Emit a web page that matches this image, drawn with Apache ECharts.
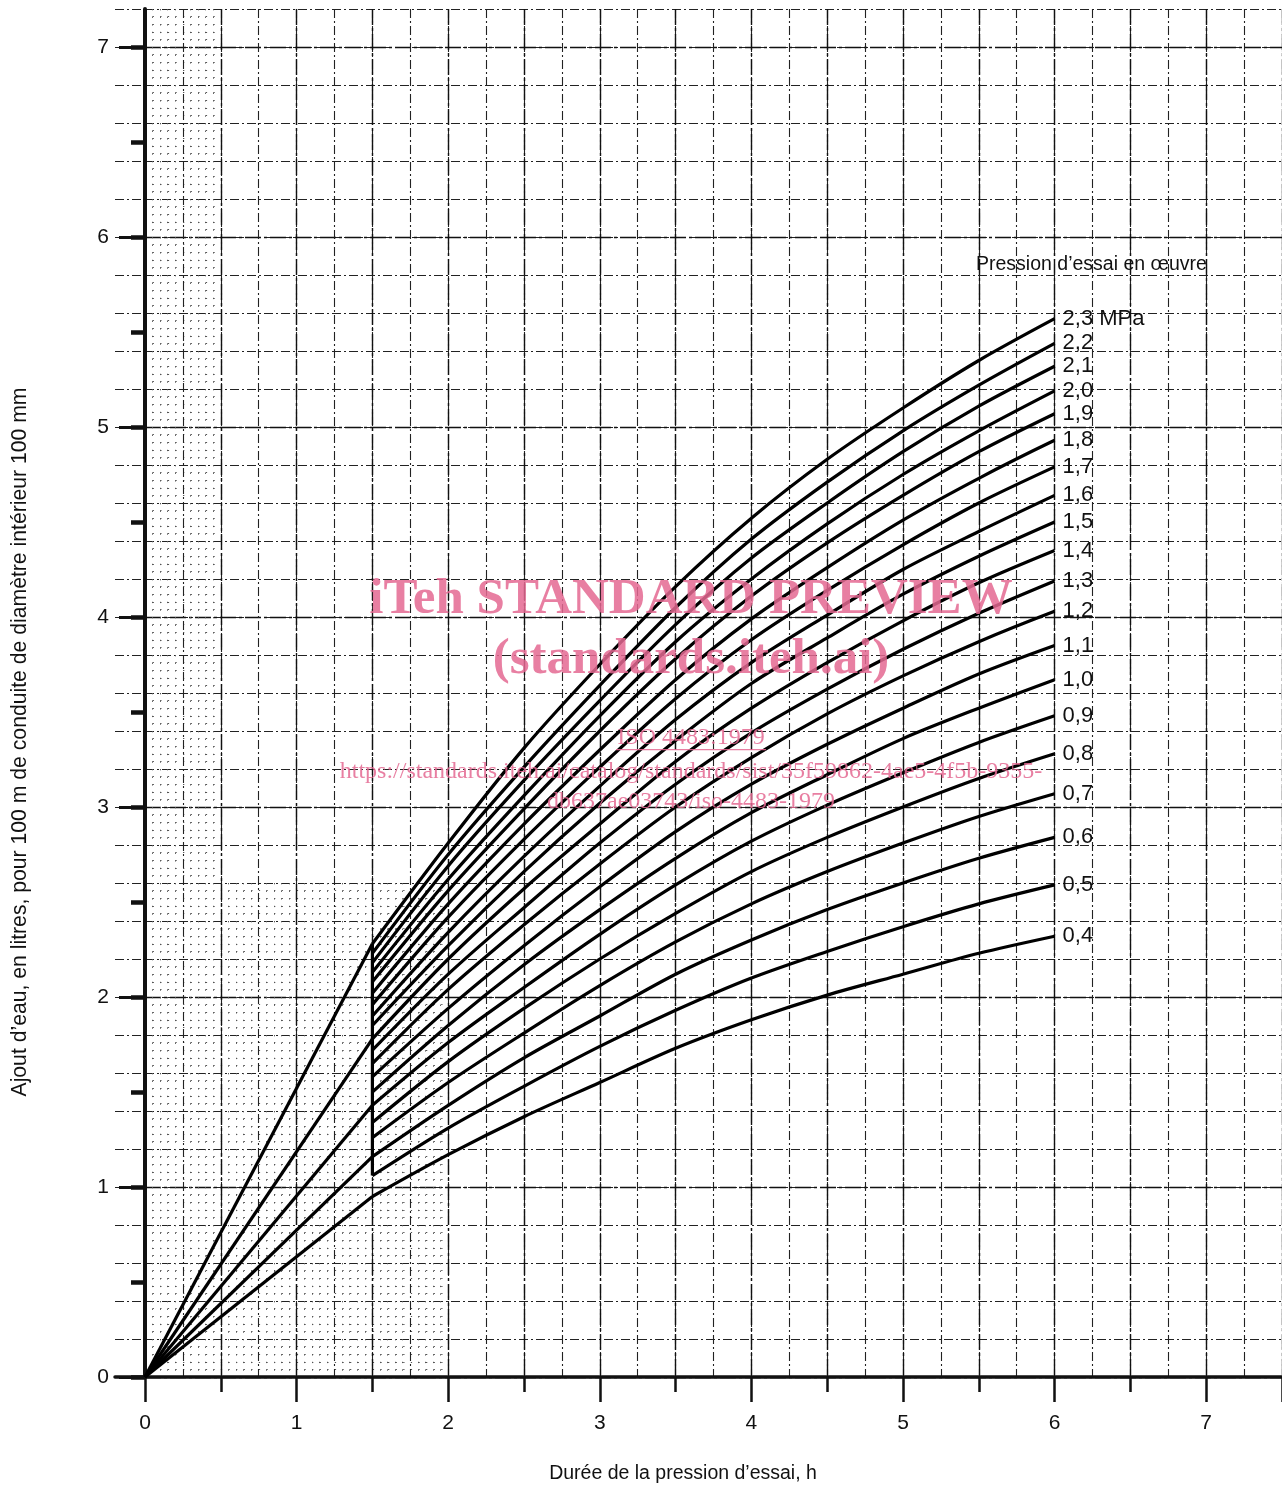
<!DOCTYPE html>
<html>
<head>
<meta charset="utf-8">
<script src="https://cdn.jsdelivr.net/npm/echarts@6/dist/echarts.min.js"></script>
<style>
html,body{margin:0;padding:0;background:#fff;overflow:hidden;}
#chart{width:1282px;height:1486px;}
</style>
</head>
<body>
<div id="chart"></div>
<script>
// ---- data ----
const hours = [1.5, 2, 2.5, 3, 3.5, 4, 4.5, 5, 5.5, 6];
const p04 = [0.95, 1.17, 1.37, 1.55, 1.73, 1.88, 2.01, 2.12, 2.23, 2.32];
const p05 = [1.06, 1.31, 1.53, 1.74, 1.93, 2.10, 2.24, 2.37, 2.49, 2.59];
const p06 = [1.16, 1.43, 1.68, 1.90, 2.12, 2.30, 2.46, 2.60, 2.73, 2.84];
const p07 = [1.26, 1.55, 1.81, 2.06, 2.29, 2.49, 2.66, 2.81, 2.95, 3.07];
const p08 = [1.34, 1.66, 1.94, 2.20, 2.44, 2.66, 2.84, 3.00, 3.15, 3.28];
const p09 = [1.43, 1.76, 2.05, 2.33, 2.59, 2.82, 3.01, 3.18, 3.34, 3.48];
const p10 = [1.50, 1.85, 2.17, 2.46, 2.73, 2.97, 3.17, 3.36, 3.52, 3.67];
const p11 = [1.58, 1.94, 2.27, 2.58, 2.87, 3.12, 3.33, 3.52, 3.70, 3.85];
const p12 = [1.65, 2.04, 2.38, 2.70, 3.00, 3.26, 3.49, 3.69, 3.87, 4.03];
const p13 = [1.72, 2.12, 2.47, 2.81, 3.12, 3.39, 3.62, 3.83, 4.02, 4.19];
const p14 = [1.78, 2.20, 2.57, 2.91, 3.24, 3.52, 3.76, 3.98, 4.18, 4.35];
const p15 = [1.85, 2.27, 2.66, 3.02, 3.35, 3.65, 3.89, 4.12, 4.32, 4.50];
const p16 = [1.90, 2.34, 2.74, 3.11, 3.46, 3.76, 4.01, 4.25, 4.45, 4.64];
const p17 = [1.96, 2.42, 2.83, 3.21, 3.57, 3.88, 4.14, 4.38, 4.60, 4.79];
const p18 = [2.02, 2.49, 2.91, 3.30, 3.67, 3.99, 4.26, 4.51, 4.73, 4.93];
const p19 = [2.08, 2.56, 2.99, 3.40, 3.78, 4.11, 4.39, 4.64, 4.87, 5.07];
const p20 = [2.13, 2.62, 3.06, 3.48, 3.87, 4.20, 4.49, 4.75, 4.98, 5.19];
const p21 = [2.18, 2.69, 3.14, 3.56, 3.96, 4.31, 4.60, 4.87, 5.11, 5.32];
const p22 = [2.23, 2.75, 3.21, 3.64, 4.05, 4.41, 4.71, 4.98, 5.22, 5.44];
const p23 = [2.28, 2.81, 3.31, 3.75, 4.16, 4.52, 4.83, 5.10, 5.35, 5.57];
const pressureLabels = ['0,4','0,5','0,6','0,7','0,8','0,9','1,0','1,1','1,2','1,3','1,4','1,5','1,6','1,7','1,8','1,9','2,0','2,1','2,2','2,3 MPa'];
const curveValues = [p04,p05,p06,p07,p08,p09,p10,p11,p12,p13,p14,p15,p16,p17,p18,p19,p20,p21,p22,p23];
const originCurves = [p04, p06, p09, p14, p23];
const xTickLabels = ['0','1','2','3','4','5','6','7'];
const yTickLabels = ['0','1','2','3','4','5','6','7'];
const yHalfTicks = [0, 0.5, 1, 1.5, 2, 2.5, 3, 3.5, 4, 4.5, 5, 5.5, 6, 6.5, 7];
const yUnitTicks = [0, 1, 2, 3, 4, 5, 6, 7];

// ---- layout ----
const W = 1282, H = 1486;
const G = { left: 145, right: 0, top: 9, bottom: 109 };
const XMAX = 7.5, YMAX = 7.2;
const plotW = W - G.left - G.right, plotH = H - G.top - G.bottom;
const pxX = plotW / XMAX, pxY = plotH / YMAX;
const FONT = '"Liberation Sans", Arial, sans-serif';
const INK = '#111';

const gridDash = { color: '#222', width: 1.1, type: [9, 3, 2, 3] };
const gridDash2 = { color: '#111', width: 1.4, type: [16, 3, 3, 3] };
const minorDots = { color: '#555', width: 1, type: [1.3, 6.3] };

function hiddenAxisBase(extra) {
  return Object.assign({
    type: 'value', axisLine: { show: false }, axisTick: { show: false },
    axisLabel: { show: false }, splitLine: { show: false }
  }, extra);
}
function intLabel(labels) {
  return v => (Math.abs(v - Math.round(v)) < 1e-6 ? (labels[Math.round(v)] ?? '') : '');
}

const grids = [
  { left: G.left, right: G.right, top: G.top, bottom: G.bottom, outerBoundsMode: 'none' },
  { left: G.left, width: 0.5 * pxX, top: G.top, bottom: G.bottom, outerBoundsMode: 'none' },
  { left: G.left + 0.5 * pxX, width: 1.5 * pxX, top: G.top + (YMAX - 2.6) * pxY, bottom: G.bottom, outerBoundsMode: 'none' },
  { left: G.left - 30, width: 30, top: G.top, bottom: G.bottom, outerBoundsMode: 'none' }
];

const xAxes = [
  { type: 'value', gridIndex: 0, position: 'bottom', min: 0, max: XMAX, interval: 0.25,
    axisLine: { show: true, onZero: false, lineStyle: { color: INK, width: 3.5 } },
    axisTick: { show: false }, axisLabel: { show: false },
    splitLine: { show: true, lineStyle: gridDash } },
  hiddenAxisBase({ gridIndex: 0, position: 'bottom', min: 0, max: XMAX, interval: 0.5,
    axisTick: { show: true, length: 15, lineStyle: { color: INK, width: 2.5 } },
    splitLine: { show: true, lineStyle: gridDash2 } }),
  hiddenAxisBase({ gridIndex: 0, position: 'bottom', min: 0, max: XMAX, interval: 1,
    axisTick: { show: true, length: 25, lineStyle: { color: INK, width: 2.5 } },
    axisLabel: { show: true, margin: 36, fontSize: 21, fontFamily: FONT, color: INK,
      formatter: intLabel(xTickLabels) } }),
  hiddenAxisBase({ gridIndex: 1, min: 0, max: 0.5, interval: 0.25,
    minorTick: { show: false, splitNumber: 5 }, minorSplitLine: { show: true, lineStyle: minorDots } }),
  hiddenAxisBase({ gridIndex: 2, min: 0.5, max: 2.0, interval: 0.25,
    minorTick: { show: false, splitNumber: 5 }, minorSplitLine: { show: true, lineStyle: minorDots } }),
  hiddenAxisBase({ gridIndex: 3, min: 0, max: 1, position: 'bottom',
    axisLine: { show: true, onZero: false, lineStyle: { color: INK, width: 3.5 } } })
];

const yAxes = [
  { type: 'value', gridIndex: 0, position: 'left', min: 0, max: YMAX, interval: 0.2,
    axisLine: { show: true, onZero: false, lineStyle: { color: INK, width: 4 } },
    axisTick: { show: false }, axisLabel: { show: false },
    splitLine: { show: true, lineStyle: gridDash } },
  hiddenAxisBase({ gridIndex: 0, position: 'left', min: 0, max: YMAX, interval: 0.5,
    axisTick: { show: true, length: 14, customValues: yHalfTicks, lineStyle: { color: INK, width: 4.5 } } }),
  hiddenAxisBase({ gridIndex: 0, position: 'left', min: 0, max: YMAX, interval: 1,
    axisTick: { show: true, length: 26, customValues: yUnitTicks, lineStyle: { color: INK, width: 3 } },
    axisLabel: { show: true, margin: 36, fontSize: 21, fontFamily: FONT, color: INK,
      customValues: yUnitTicks, formatter: intLabel(yTickLabels) },
    splitLine: { show: true, lineStyle: gridDash2 } }),
  hiddenAxisBase({ gridIndex: 1, min: 0, max: YMAX, interval: 0.2,
    minorTick: { show: false, splitNumber: 5 }, minorSplitLine: { show: true, lineStyle: minorDots } }),
  hiddenAxisBase({ gridIndex: 2, min: 0, max: 2.6, interval: 0.2,
    minorTick: { show: false, splitNumber: 5 }, minorSplitLine: { show: true, lineStyle: minorDots } }),
  hiddenAxisBase({ gridIndex: 3, min: 0, max: YMAX, interval: 0.2,
    splitLine: { show: true, lineStyle: gridDash } })
];

const curveLine = { color: '#000', width: 3.2 };
const series = [];
curveValues.forEach((vals, i) => {
  series.push({
    type: 'line', name: pressureLabels[i], xAxisIndex: 0, yAxisIndex: 0,
    data: hours.map((h, j) => [h, vals[j]]),
    showSymbol: false, smooth: 0.3, lineStyle: curveLine, silent: true, z: 5,
    endLabel: { show: true, formatter: pressureLabels[i], distance: 8,
      fontSize: 22, fontFamily: FONT, color: INK }
  });
});
originCurves.forEach(vals => {
  series.push({
    type: 'line', xAxisIndex: 0, yAxisIndex: 0,
    data: [[0, 0], [hours[0], vals[0]]],
    showSymbol: false, lineStyle: curveLine, silent: true, z: 5
  });
});
series.push({
  type: 'line', xAxisIndex: 0, yAxisIndex: 0,
  data: [[hours[0], p05[0]], [hours[0], p23[0]]],
  showSymbol: false, lineStyle: curveLine, silent: true, z: 5
});

const pink = 'rgba(228,104,146,0.85)';
const serif = '"Liberation Serif", "DejaVu Serif", serif';
const graphic = [
  { type: 'text', x: 976, y: 265, z: 10,
    style: { text: 'Pression d’essai en œuvre', font: '19.5px ' + FONT, fill: INK, verticalAlign: 'middle' } },
  { type: 'text', x: 683, y: 1474, z: 10,
    style: { text: 'Durée de la pression d’essai, h', font: '19.5px ' + FONT, fill: INK, align: 'center', verticalAlign: 'middle' } },
  { type: 'text', x: 20, y: 742, rotation: Math.PI / 2, z: 10,
    style: { text: 'Ajout d’eau, en litres, pour 100 m de conduite de diamètre intérieur 100 mm', font: '21.2px ' + FONT, fill: INK, align: 'center', verticalAlign: 'middle' } },
  { type: 'text', x: 691, y: 600, z: 20,
    style: { text: 'iTeh STANDARD PREVIEW', font: 'bold 51px ' + serif, fill: pink, align: 'center', verticalAlign: 'middle' } },
  { type: 'text', x: 691, y: 660, z: 20,
    style: { text: '(standards.iteh.ai)', font: 'bold 51px ' + serif, fill: pink, align: 'center', verticalAlign: 'middle' } },
  { type: 'text', x: 691, y: 738, z: 20,
    style: { text: 'ISO 4483:1979', font: '24px ' + serif, fill: pink, align: 'center', verticalAlign: 'middle' } },
  { type: 'rect', z: 20, shape: { x: 616, y: 749, width: 150, height: 1.2 }, style: { fill: pink } },
  { type: 'text', x: 691, y: 772, z: 20,
    style: { text: 'https://standards.iteh.ai/catalog/standards/sist/35f59862-4ae5-4f5b-9355-', font: '24px ' + serif, fill: pink, align: 'center', verticalAlign: 'middle' } },
  { type: 'text', x: 691, y: 802, z: 20,
    style: { text: 'db637ae03743/iso-4483-1979', font: '24px ' + serif, fill: pink, align: 'center', verticalAlign: 'middle' } }
];

const chart = echarts.init(document.getElementById('chart'), null, { renderer: 'canvas', devicePixelRatio: 1 });
chart.setOption({
  backgroundColor: '#fff',
  animation: false,
  grid: grids,
  xAxis: xAxes,
  yAxis: yAxes,
  series: series,
  graphic: graphic
});
</script>
</body>
</html>
